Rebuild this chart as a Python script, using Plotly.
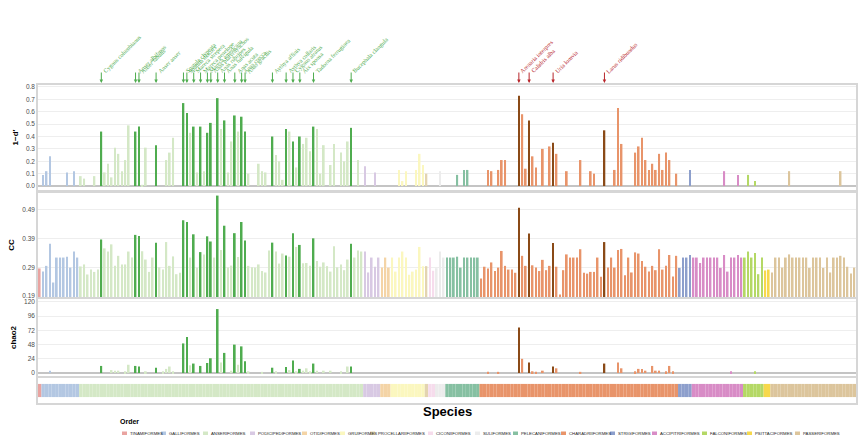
import plotly.graph_objects as go
from plotly.subplots import make_subplots

W, H = 865, 441
ML, MR = 38, 9
PW = W - ML - MR

# order of the species along the x axis
orders = ['TINAMIFORMES', 'GALLIFORMES', 'ANSERIFORMES', 'PODICIPEDIFORMES', 'OTIDIFORMES',
          'GRUIFORMES', 'PROCELLARIIFORMES', 'CICONIIFORMES', 'SULIFORMES', 'PELECANIFORMES',
          'CHARADRIIFORMES', 'STRIGIFORMES', 'ACCIPITRIFORMES', 'FALCONIFORMES',
          'PSITTACIFORMES', 'PASSERIFORMES']
order_counts = [1, 11, 83, 5, 3, 10, 1, 2, 3, 10, 58, 4, 15, 6, 2, 25]
order_colors = ['#e9a3a0', '#b3c7e2', '#d4e8c6', '#d8c9e3', '#f4d4a6', '#fbf7bf', '#e3d4b0',
                '#f6dcec', '#ececec', '#86c0a2', '#e8946a', '#8d9fcc', '#d88cc6', '#b4d865',
                '#f7d84b', '#dcc59c']

# 1 - d'
d_prime = [
    0,
    0.09, 0.12, 0.24, 0, 0, 0, 0, 0.11, 0, 0.12, 0,
    0.08, 0.06, 0, 0, 0.08, 0, 0.44, 0.11, 0.18, 0.07,
    0.31, 0.26, 0.12, 0.21, 0.49, 0, 0.44, 0.48, 0.01, 0.31,
    0, 0, 0.33, 0, 0, 0.21, 0.27, 0.39, 0, 0,
    0.67, 0.59, 0.43, 0.48, 0.11, 0.48, 0.12, 0.43, 0.51, 0,
    0.71, 0.46, 0.53, 0.11, 0.36, 0.57, 0.44, 0.56, 0.44, 0.10,
    0, 0, 0.18, 0.12, 0.11, 0, 0.40, 0.25, 0.20, 0.05,
    0.46, 0.44, 0.36, 0.15, 0.40, 0.34, 0.39, 0.28, 0.48, 0.46,
    0.10, 0.33, 0, 0.17, 0.34, 0, 0.27, 0.20, 0.36, 0.47,
    0, 0.21, 0,
    0.16, 0, 0, 0.11, 0,
    0, 0, 0,
    0, 0, 0.13, 0.04, 0.12, 0, 0, 0.13, 0.26, 0.17,
    0.10,
    0, 0,
    0, 0.12, 0,
    0, 0, 0, 0.09, 0, 0.13, 0.13, 0, 0, 0,
    0, 0, 0.13, 0.12, 0, 0.13, 0.21, 0.21, 0, 0,
    0, 0.73, 0.58, 0.14, 0.53, 0.24, 0.15, 0, 0.30, 0,
    0.32, 0.35, 0.26, 0, 0, 0.12, 0, 0, 0, 0.21,
    0, 0, 0.12, 0.10, 0, 0, 0.45, 0, 0, 0.13,
    0.63, 0.34, 0, 0, 0, 0.27, 0.32, 0.39, 0.21, 0.13,
    0.18, 0.13, 0.26, 0.13, 0.27, 0.21, 0, 0.10,
    0, 0, 0, 0.13,
    0, 0, 0, 0, 0, 0, 0, 0, 0, 0.12, 0, 0, 0, 0.09, 0,
    0, 0.09, 0, 0.04, 0, 0,
    0, 0,
    0, 0, 0, 0, 0, 0.12, 0, 0, 0, 0, 0, 0, 0, 0, 0, 0, 0, 0, 0, 0, 0.12, 0, 0, 0, 0,
]

cc = [
    0.286,
    0.275, 0.295, 0.372, 0.237, 0.324, 0.324, 0.324, 0.327, 0.289, 0.345, 0.324,
    0.293, 0.30, 0.265, 0.282, 0.274, 0.282, 0.387, 0.356, 0.345, 0.37,
    0.295, 0.33, 0.30, 0.30, 0.345, 0.324, 0.403, 0.399, 0.346, 0.317,
    0.274, 0.324, 0.376, 0.29, 0.282, 0.378, 0.295, 0.328, 0.266, 0.271,
    0.454, 0.448, 0.324, 0.405, 0.289, 0.343, 0.335, 0.398, 0.38, 0.324,
    0.54, 0.35, 0.435, 0.289, 0.296, 0.409, 0.326, 0.448, 0.383, 0.295,
    0.29, 0.289, 0.30, 0.277, 0.272, 0.349, 0.376, 0.345, 0.303, 0.338,
    0.331, 0.327, 0.409, 0.361, 0.368, 0.304, 0.305, 0.295, 0.391, 0.312,
    0.292, 0.307, 0.294, 0.275, 0.363, 0.29, 0.30, 0.28, 0.317, 0.372,
    0.324, 0.349, 0.345,
    0.345, 0.272, 0.324, 0.292, 0.324,
    0.289, 0.324, 0.289,
    0.324, 0.275, 0.324, 0.345, 0.324, 0.264, 0.275, 0.282, 0.361, 0.294,
    0.294,
    0.324, 0.278,
    0.287, 0.345, 0.324,
    0.324, 0.324, 0.324, 0.327, 0.289, 0.324, 0.324, 0.324, 0.324, 0.324,
    0.251, 0.292, 0.286, 0.307, 0.277, 0.289, 0.347, 0.295, 0.282, 0.282,
    0.271, 0.498, 0.33, 0.295, 0.408, 0.297, 0.289, 0.277, 0.316, 0.28,
    0.295, 0.375, 0.292, 0.195, 0.28, 0.335, 0.324, 0.324, 0.324, 0.353,
    0.271, 0.268, 0.274, 0.274, 0.324, 0.257, 0.378, 0.289, 0.324, 0.289,
    0.35, 0.354, 0.262, 0.324, 0.272, 0.342, 0.338, 0.312, 0.292, 0.275,
    0.295, 0.28, 0.353, 0.282, 0.295, 0.333, 0.258, 0.33,
    0.288, 0.324, 0.324, 0.333,
    0.324, 0.324, 0.305, 0.324, 0.324, 0.324, 0.324, 0.324, 0.288, 0.333, 0.275, 0.324, 0.324, 0.333, 0.324,
    0.324, 0.345, 0.324, 0.34, 0.266, 0.324,
    0.279, 0.282,
    0.272, 0.324, 0.324, 0.289, 0.324, 0.335, 0.324, 0.324, 0.324, 0.324, 0.324, 0.288, 0.324,
    0.324, 0.324, 0.288, 0.324, 0.272, 0.324, 0.324, 0.33, 0.324, 0.292, 0.268, 0.289,
]

chao2 = [
    0,
    0, 0, 4, 0, 0, 0, 0, 0, 0, 0, 0,
    0, 0, 0, 0, 0, 0, 12, 0, 0, 5,
    4, 4, 0, 3, 14, 0, 12, 11, 0, 3,
    0, 0, 9, 0, 3, 7, 11, 3, 0, 0,
    50, 61, 13, 16, 0, 12, 0, 17, 25, 0,
    108, 18, 34, 0, 4, 48, 14, 45, 20, 3,
    0, 0, 0, 2, 0, 0, 9, 3, 0, 0,
    10, 5, 21, 3, 7, 4, 8, 3, 16, 4,
    0, 4, 0, 4, 0, 0, 3, 0, 11, 11,
    0, 0, 0,
    0, 0, 0, 0, 0,
    0, 0, 0,
    0, 0, 0, 0, 0, 0, 0, 0, 0, 0,
    0,
    0, 0,
    0, 0, 0,
    0, 0, 0, 0, 0, 0, 0, 0, 0, 0,
    0, 0, 2, 0, 0, 2, 0, 0, 0, 0,
    0, 77, 24, 0, 18, 3, 2, 0, 4, 0,
    0, 11, 8, 0, 0, 0, 0, 0, 0, 2,
    0, 0, 0, 0, 0, 0, 16, 0, 0, 0,
    18, 8, 0, 0, 0, 3, 7, 7, 4, 0,
    12, 4, 4, 0, 3, 12, 3, 0,
    0, 0, 0, 0,
    0, 0, 0, 0, 0, 0, 0, 0, 0, 0, 0, 3, 0, 0, 0,
    0, 0, 0, 3, 0, 0,
    0, 0,
    0, 0, 0, 0, 0, 0, 0, 0, 0, 0, 0, 0, 0, 0, 0, 0, 0, 0, 0, 0, 0, 0, 0, 0, 0,
]

# highlighted species (index along the axis -> name)
anser_hl = {18: 'Cygnus columbianus', 28: 'Anser albifrons', 29: 'Anser fabalis', 34: 'Anser anser',
            42: 'Spatula clypeata', 43: 'Spatula discors', 45: 'Mareca strepera',
            47: 'Mareca penelope', 49: 'Mareca americana', 50: 'Anas platyrhynchos',
            52: 'Anas rubripes', 54: 'Anas fulvigula', 57: 'Anas acuta', 59: 'Anas crecca',
            60: 'Anas gracilis', 68: 'Aythya affinis', 72: 'Aythya collaris',
            74: 'Cygnus atratus', 76: 'Aix sponsa', 80: 'Tadorna ferruginea',
            91: 'Bucephala clangula'}
charad_hl = {140: 'Arenaria interpres', 143: 'Calidris alba', 150: 'Uria lomvia',
             165: 'Larus ridibundus'}

GREEN = '#4fac4f'
BROWN = '#8a4a17'
RED = '#b8262b'

species_order = []
for o, k in zip(orders, order_counts):
    species_order += [o] * k
n = len(species_order)
idx = list(range(n))
col_of = dict(zip(orders, order_colors))
base_cols = [col_of[o] for o in species_order]
bar_cols = list(base_cols)
for i in anser_hl:
    bar_cols[i] = GREEN
for i in charad_hl:
    bar_cols[i] = BROWN


def px_x(p):
    return (p - ML) / PW


def px_y(p):
    return 1 - p / H


fig = make_subplots(rows=4, cols=1, shared_xaxes=True)
for r, vals in enumerate([d_prime, cc, chao2], start=1):
    fig.add_trace(go.Bar(x=idx, y=vals, marker_color=bar_cols, marker_line_width=0,
                         width=0.5, showlegend=False, hoverinfo='skip'), row=r, col=1)
fig.add_trace(go.Bar(x=idx, y=[1] * n, marker_color=base_cols, marker_line_width=0,
                     width=1, showlegend=False, hoverinfo='skip'), row=4, col=1)

box = dict(showline=True, mirror=True, linecolor='#d6d6d6', linewidth=1.5)
tickf = dict(size=6.5, color='#4d4d4d', family='Liberation Sans')
titf = dict(size=8, color='black', family='Liberation Sans')

for k in range(1, 5):
    fig.update_layout(**{f'xaxis{"" if k == 1 else k}': dict(
        range=[-0.5, n - 0.5], showticklabels=False, showgrid=False, zeroline=False,
        ticks='', **box)})

fig.update_layout(
    width=W, height=H,
    margin=dict(l=ML, r=MR, t=0, b=0, autoexpand=False),
    paper_bgcolor='white', plot_bgcolor='white',
    showlegend=False,
    yaxis=dict(domain=[px_y(190), px_y(85)], range=[-0.032, 0.816], tick0=0, dtick=0.1,
               tickformat='.1f', gridcolor='#eeeeee', zeroline=True, zerolinecolor='#c4c4c4',
               zerolinewidth=2, tickfont=tickf, ticks='',
               title=dict(text='<b>1−d′</b>', font=titf, standoff=6), **box),
    yaxis2=dict(domain=[px_y(297), px_y(193)], range=[0.1865, 0.549],
                tickvals=[0.19, 0.29, 0.39, 0.49], gridcolor='#eeeeee', zeroline=False,
                tickfont=tickf, ticks='',
                title=dict(text='<b>CC</b>', font=titf, standoff=6), **box),
    yaxis3=dict(domain=[px_y(376), px_y(299)], range=[-5, 125],
                tickvals=[0, 24, 48, 72, 96, 120], gridcolor='#eeeeee', zeroline=True,
                zerolinecolor='#c4c4c4', zerolinewidth=2, tickfont=tickf, ticks='',
                title=dict(text='<b>chao2</b>', font=titf, standoff=6), **box),
    yaxis4=dict(domain=[px_y(403), px_y(378)], range=[-0.45, 1.45], showticklabels=False,
                showgrid=False, zeroline=False, ticks='', **box),
)

anns = []
for hl, tcol, acol in [(anser_hl, GREEN, GREEN), (charad_hl, RED, RED)]:
    for i, name in hl.items():
        anns.append(dict(x=i, xref='x', y=px_y(83), yref='paper', text='', showarrow=True,
                         ax=0, ay=-12, arrowhead=2, arrowsize=0.7, arrowwidth=1,
                         arrowcolor=acol))
        anns.append(dict(x=i, xref='x', y=px_y(77), yref='paper', text=name, showarrow=False,
                         textangle=-45, xanchor='left', yanchor='bottom', xshift=-2,
                         font=dict(size=6, color=tcol, family='Liberation Serif')))

anns.append(dict(x=px_x(447), y=px_y(411), xref='paper', yref='paper', text='<b>Species</b>',
                 showarrow=False, xanchor='center', yanchor='middle',
                 font=dict(size=13, color='black', family='Liberation Sans')))
anns.append(dict(x=px_x(118), y=px_y(421), xref='paper', yref='paper', text='<b>Order</b>',
                 showarrow=False, xanchor='left', yanchor='middle',
                 font=dict(size=7, color='black', family='Liberation Sans')))

legend_x = [122, 161, 203, 250, 302, 340, 370, 428, 475, 513, 561, 610, 652, 702, 747, 795]
shapes = []
for o, c, lx in zip(orders, order_colors, legend_x):
    shapes.append(dict(type='rect', xref='paper', yref='paper', x0=px_x(lx), x1=px_x(lx + 5),
                       y0=px_y(435), y1=px_y(431.5), fillcolor=c, line_width=0))
    anns.append(dict(x=px_x(lx + 6), y=px_y(433.3), xref='paper', yref='paper', text=o,
                     showarrow=False, xanchor='left', yanchor='middle',
                     font=dict(size=4.3, color='#222222', family='Liberation Sans')))

fig.update_layout(annotations=anns, shapes=shapes)

# the page's default body margin would push the figure off by 8px
fig.write_html("out.html", config={'displayModeBar': False},
               post_script="document.body.style.margin='0px';")
